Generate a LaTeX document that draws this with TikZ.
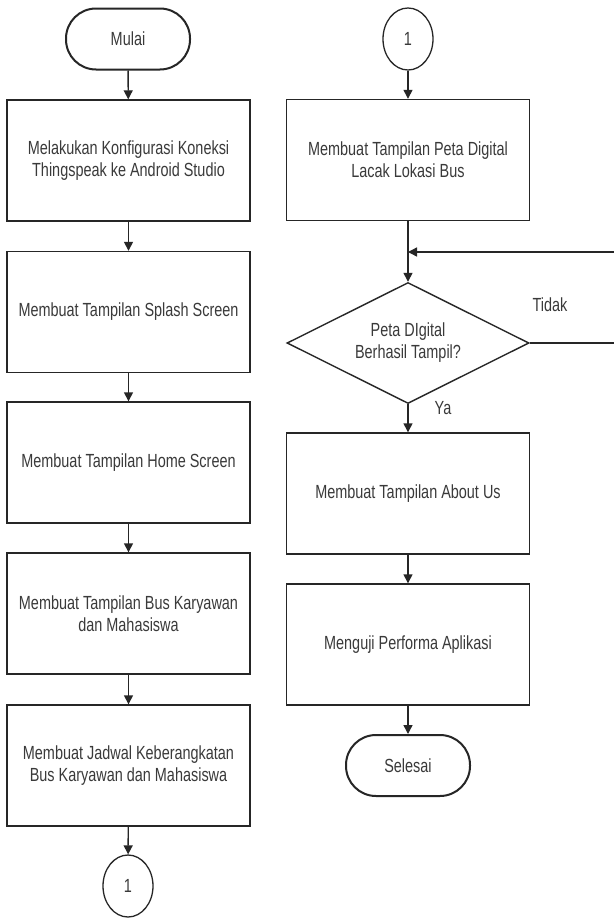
\documentclass[tikz,border=0pt]{standalone}
\usepackage{fontspec}
\setmainfont[FakeStretch=0.76]{Liberation Sans}
\usetikzlibrary{arrows.meta,shapes.geometric}
\definecolor{ln}{HTML}{262626}
\definecolor{tx}{HTML}{3A3A3A}
\begin{document}
\begin{tikzpicture}[x=1pt,y=-1pt,
 every node/.style={font=\fontsize{19}{22}\selectfont, text=tx},
 proc/.style={draw=ln, line width=1.4pt, minimum width=243pt, minimum height=121pt, align=center, inner sep=0pt},
 term/.style={draw=ln, line width=2pt, rounded corners=30pt, minimum width=124pt, minimum height=61pt, inner sep=0pt},
 conn/.style={draw=ln, line width=1.3pt, ellipse, minimum width=50pt, minimum height=62pt, inner sep=0pt},
 dec/.style={draw=ln, line width=1.4pt, diamond, shape aspect=2, minimum width=242pt, minimum height=121pt, inner sep=0pt, align=center},
 arr/.style={draw=ln, line width=1.4pt, -{Triangle[length=9pt,width=9pt]}},
 flow/.style={draw=ln, line width=1.4pt},
 ]
\useasboundingbox (0,0) rectangle (613,918);
\fill[white] (0,0) rectangle (613,918);
\node[term] (start) at (128,39) {Mulai};
\node[proc] (b1) at (128.5,160.5) {Melakukan Konfigurasi Koneksi\\Thingspeak ke Android Studio};
\node[proc] (b2) at (128.5,312) {Membuat Tampilan Splash Screen};
\node[proc] (b3) at (128.5,462.5) {Membuat Tampilan Home Screen};
\node[proc] (b4) at (128.5,613.5) {Membuat Tampilan Bus Karyawan\\dan Mahasiswa};
\node[proc] (b5) at (128.5,765.5) {Membuat Jadwal Keberangkatan\\Bus Karyawan dan Mahasiswa};
\node[conn] (c1) at (128,886) {1};
\node[conn] (c2) at (408,39) {1};
\node[proc] (b6) at (408,160) {Membuat Tampilan Peta Digital\\Lacak Lokasi Bus};
\node[dec] (d) at (408,343) {Peta DIgital\\Berhasil Tampil?};
\node[proc] (b7) at (408,493.5) {Membuat Tampilan About Us};
\node[proc] (b8) at (408,644.5) {Menguji Performa Aplikasi};
\node[term] (end) at (408,765.5) {Selesai};
\node (tidak) at (550,305) {Tidak};
\node (ya) at (443,408) {Ya};
\coordinate (j) at (408,252);
\coordinate (r1) at (614.5,343);
\coordinate (r2) at (614.5,252);
\draw[arr] (start) -- (b1);
\draw[arr] (b1) -- (b2);
\draw[arr] (b2) -- (b3);
\draw[arr] (b3) -- (b4);
\draw[arr] (b4) -- (b5);
\draw[arr] (b5) -- (c1);
\draw[arr] (c2) -- (b6);
\draw[arr] (b6) -- (d);
\draw[flow] (d.east) -- (r1) -- (r2);
\draw[arr] (r2) -- (j);
\draw[arr] (d) -- (b7);
\draw[arr] (b7) -- (b8);
\draw[arr] (b8) -- (end);
\end{tikzpicture}
\end{document}
